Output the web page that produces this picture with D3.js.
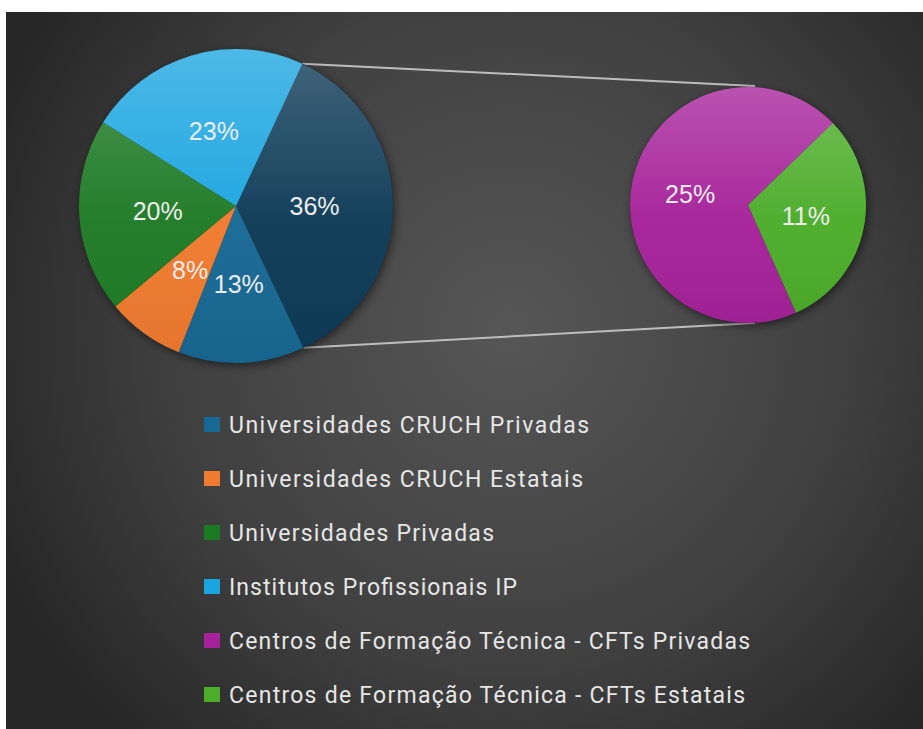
<!DOCTYPE html>
<html><head><meta charset="utf-8">
<script src="https://cdn.jsdelivr.net/npm/d3@7"></script>
<style>html,body{margin:0;padding:0;background:#fff;}svg{display:block;}</style>
</head><body>
<script>
// ---- data ----
const categories = [
  "Universidades CRUCH Privadas",
  "Universidades CRUCH Estatais",
  "Universidades Privadas",
  "Institutos Profissionais IP",
  "Centros de Formação Técnica - CFTs Privadas",
  "Centros de Formação Técnica - CFTs Estatais"
];
const values = [13, 8, 20, 23, 25, 11];
const colors = ["#176894", "#f07a2e", "#1d7a24", "#1aa5e0", "#a6229a", "#4cad2a"];
const mainIdx = [0, 1, 2, 3];     // shown in first pie
const secondIdx = [4, 5];          // split out to second pie
const otherColor = "#0d3a57";
const legendWidths = [360, 354, 265, 288, 521, 516];

const W = 923, H = 729;
const svg = d3.select("body").append("svg").attr("width", W).attr("height", H);
const defs = svg.append("defs");

const bg = defs.append("radialGradient").attr("id","bg")
  .attr("gradientUnits","userSpaceOnUse").attr("cx",510).attr("cy",330).attr("r",560);
bg.append("stop").attr("offset","0%").attr("stop-color","#565656");
bg.append("stop").attr("offset","60%").attr("stop-color","#404040");
bg.append("stop").attr("offset","100%").attr("stop-color","#272727");

const shine = defs.append("linearGradient").attr("id","shine").attr("x1",0).attr("y1",0).attr("x2",0).attr("y2",1);
shine.append("stop").attr("offset","0%").attr("stop-color","#fff").attr("stop-opacity",0.22);
shine.append("stop").attr("offset","55%").attr("stop-color","#fff").attr("stop-opacity",0.03);
shine.append("stop").attr("offset","100%").attr("stop-color","#000").attr("stop-opacity",0.05);

const f = defs.append("filter").attr("id","shadow").attr("x","-20%").attr("y","-20%").attr("width","140%").attr("height","140%");
f.append("feDropShadow").attr("dx",2).attr("dy",3).attr("stdDeviation",5).attr("flood-color","#000").attr("flood-opacity",0.5);

svg.append("rect").attr("x",6).attr("y",12).attr("width",W-6).attr("height",H-12).attr("fill","url(#bg)");

const deg = Math.PI/180;
const total = d3.sum(values);
const otherSum = d3.sum(secondIdx, i => values[i]);

// ---- pie 1 ----
const c1 = {x:236, y:206}, r1 = 157;
const pie1Data = [{v: otherSum, color: otherColor, other:true}].concat(mainIdx.map(i => ({v: values[i], color: colors[i]})));
const pie1 = d3.pie().value(d => d.v).sort(null).startAngle(25*deg).endAngle(385*deg)(pie1Data);
const arc1 = d3.arc().innerRadius(0).outerRadius(r1);

// ---- pie 2 ----
const c2 = {x:748, y:205}, r2 = 118;
const pie2Data = secondIdx.map(i => ({v: values[i], color: colors[i]}));
const pie2 = d3.pie().value(d => d.v).sort(null).startAngle(156*deg).endAngle(516*deg)(pie2Data);
const arc2 = d3.arc().innerRadius(0).outerRadius(r2);

// connector lines
const oth = pie1[0];
const pt = (c, r, a) => [c.x + r*Math.sin(a), c.y - r*Math.cos(a)];
const pA = pt(c1, r1, oth.startAngle), pB = pt(c1, r1, oth.endAngle);
svg.append("line").attr("x1",pA[0]).attr("y1",pA[1]).attr("x2",c2.x+7).attr("y2",c2.y-r2-1)
  .attr("stroke","#bdbdbd").attr("stroke-width",2);
svg.append("line").attr("x1",pB[0]).attr("y1",pB[1]).attr("x2",c2.x+7).attr("y2",c2.y+r2)
  .attr("stroke","#bdbdbd").attr("stroke-width",2);

function drawPie(c, r, pieData, arc) {
  const g = svg.append("g").attr("transform",`translate(${c.x},${c.y})`);
  g.append("circle").attr("r",r).attr("fill","#222").attr("filter","url(#shadow)");
  g.selectAll("path.s").data(pieData).join("path").attr("class","s")
    .attr("d",arc).attr("fill",d => d.data.color);
  g.append("circle").attr("r",r).attr("fill","url(#shine)");
  const lab = d3.arc().innerRadius(r*0.5).outerRadius(r*0.5);
  g.selectAll("text").data(pieData).join("text")
    .attr("transform", d => { const [x,y] = lab.centroid(d); return `translate(${x},${y})`; })
    .attr("text-anchor","middle").attr("dy","0.36em")
    .attr("font-family","Liberation Sans, Arial, sans-serif").attr("font-size",25)
    .attr("fill","#ececec")
    .text(d => Math.round(d.data.v / total * 100) + "%");
}
drawPie(c1, r1, pie1, arc1);
drawPie(c2, r2, pie2, arc2);

// ---- legend ----
const ly = d3.scaleBand().domain(categories).range([398, 722]);
const lg = svg.append("g");
const rows = lg.selectAll("g").data(categories).join("g")
  .attr("transform", d => `translate(204,${ly(d) + ly.bandwidth()/2})`);
rows.append("rect").attr("x",0).attr("y",-8).attr("width",16).attr("height",15)
  .attr("fill",(d,i) => colors[i]);
rows.append("text").attr("x",25).attr("y",0).attr("dy","0.36em")
  .attr("font-family","Roboto, Liberation Sans, sans-serif").attr("font-size",23)
  .attr("fill","#e6e6e6")
  .attr("textLength",(d,i) => legendWidths[i]).attr("lengthAdjust","spacing")
  .text(d => d);
</script>
</body></html>
